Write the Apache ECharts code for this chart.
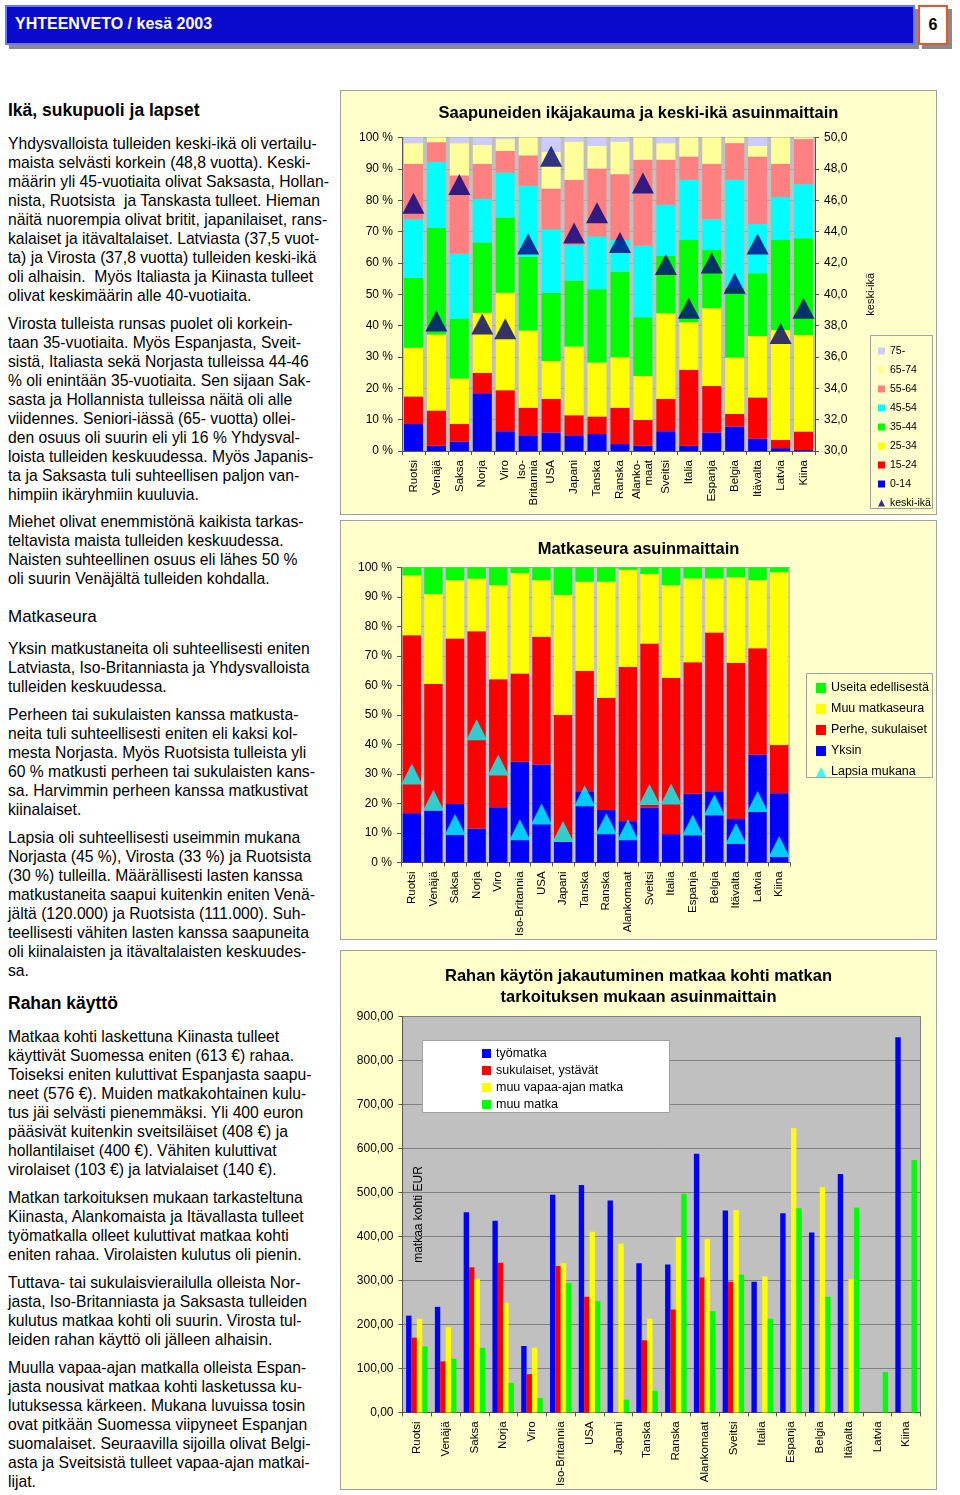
<!DOCTYPE html>
<html><head><meta charset="utf-8">
<script src="https://cdn.jsdelivr.net/npm/echarts@6/dist/echarts.min.js"></script>
<style>
body{margin:0;width:960px;height:1495px;position:relative;background:#fff;font-family:"Liberation Sans",Arial,sans-serif;overflow:hidden;color:#000}
#hdr{position:absolute;left:5px;top:5px;width:906px;height:36px;background:#0A0ACD;border:2px solid #6A78EA;box-shadow:4px 4px 0 #8a8a8a}
#hdr span{position:absolute;left:8px;top:8px;color:#fff;font-weight:bold;font-size:16px}
#pg{position:absolute;left:918px;top:5px;width:26px;height:36px;background:#fff;border:2px solid #E4572E;box-shadow:4px 4px 0 #8a8a8a;text-align:center;font-weight:bold;font-size:16px;line-height:36px}
.t{position:absolute;left:8px;font-size:15.7px;line-height:19px;white-space:nowrap}
.h{position:absolute;left:8px;font-size:17.5px;line-height:20px;font-weight:bold;white-space:nowrap}
.panel{position:absolute;left:340px;width:595px;border:1px solid #A0A0A0;background:#FFFFCC}
</style></head><body>
<div id="hdr"><span>YHTEENVETO / kesä 2003</span></div>
<div id="pg">6</div>

<div class="h" style="top:100px">Ikä, sukupuoli ja lapset</div>
<div class="t" style="top:133.5px">Yhdysvalloista tulleiden keski-ikä oli vertailu-<br>maista selvästi korkein (48,8 vuotta). Keski-<br>määrin yli 45-vuotiaita olivat Saksasta, Hollan-<br>nista, Ruotsista &nbsp;ja Tanskasta tulleet. Hieman<br>näitä nuorempia olivat britit, japanilaiset, rans-<br>kalaiset ja itävaltalaiset. Latviasta (37,5 vuot-<br>ta) ja Virosta (37,8 vuotta) tulleiden keski-ikä<br>oli alhaisin. &nbsp;Myös Italiasta ja Kiinasta tulleet<br>olivat keskimäärin alle 40-vuotiaita.</div>
<div class="t" style="top:313.5px">Virosta tulleista runsas puolet oli korkein-<br>taan 35-vuotiaita. Myös Espanjasta, Sveit-<br>sistä, Italiasta sekä Norjasta tulleissa 44-46<br>% oli enintään 35-vuotiaita. Sen sijaan Sak-<br>sasta ja Hollannista tulleissa näitä oli alle<br>viidennes. Seniori-iässä (65- vuotta) ollei-<br>den osuus oli suurin eli yli 16 % Yhdysval-<br>loista tulleiden keskuudessa. Myös Japanis-<br>ta ja Saksasta tuli suhteellisen paljon van-<br>himpiin ikäryhmiin kuuluvia.</div>
<div class="t" style="top:511.5px">Miehet olivat enemmistönä kaikista tarkas-<br>teltavista maista tulleiden keskuudessa.<br>Naisten suhteellinen osuus eli lähes 50 %<br>oli suurin Venäjältä tulleiden kohdalla.</div>
<div class="h" style="top:607px;font-weight:normal;font-size:17px">Matkaseura</div>
<div class="t" style="top:638.5px">Yksin matkustaneita oli suhteellisesti eniten<br>Latviasta, Iso-Britanniasta ja Yhdysvalloista<br>tulleiden keskuudessa.</div>
<div class="t" style="top:704.5px">Perheen tai sukulaisten kanssa matkusta-<br>neita tuli suhteellisesti eniten eli kaksi kol-<br>mesta Norjasta. Myös Ruotsista tulleista yli<br>60 % matkusti perheen tai sukulaisten kans-<br>sa. Harvimmin perheen kanssa matkustivat<br>kiinalaiset.</div>
<div class="t" style="top:827.5px">Lapsia oli suhteellisesti useimmin mukana<br>Norjasta (45 %), Virosta (33 %) ja Ruotsista<br>(30 %) tulleilla. Määrällisesti lasten kanssa<br>matkustaneita saapui kuitenkin eniten Venä-<br>jältä (120.000) ja Ruotsista (111.000). Suh-<br>teellisesti vähiten lasten kanssa saapuneita<br>oli kiinalaisten ja itävaltalaisten keskuudes-<br>sa.</div>
<div class="h" style="top:993px">Rahan käyttö</div>
<div class="t" style="top:1026.5px">Matkaa kohti laskettuna Kiinasta tulleet<br>käyttivät Suomessa eniten (613 €) rahaa.<br>Toiseksi eniten kuluttivat Espanjasta saapu-<br>neet (576 €). Muiden matkakohtainen kulu-<br>tus jäi selvästi pienemmäksi. Yli 400 euron<br>pääsivät kuitenkin sveitsiläiset (408 €) ja<br>hollantilaiset (400 €). Vähiten kuluttivat<br>virolaiset (103 €) ja latvialaiset (140 €).</div>
<div class="t" style="top:1187.5px">Matkan tarkoituksen mukaan tarkasteltuna<br>Kiinasta, Alankomaista ja Itävallasta tulleet<br>työmatkalla olleet kuluttivat matkaa kohti<br>eniten rahaa. Virolaisten kulutus oli pienin.</div>
<div class="t" style="top:1272.5px">Tuttava- tai sukulaisvierailulla olleista Nor-<br>jasta, Iso-Britanniasta ja Saksasta tulleiden<br>kulutus matkaa kohti oli suurin. Virosta tul-<br>leiden rahan käyttö oli jälleen alhaisin.</div>
<div class="t" style="top:1357.5px">Muulla vapaa-ajan matkalla olleista Espan-<br>jasta nousivat matkaa kohti lasketussa ku-<br>lutuksessa kärkeen. Mukana luvuissa tosin<br>ovat pitkään Suomessa viipyneet Espanjan<br>suomalaiset. Seuraavilla sijoilla olivat Belgi-<br>asta ja Sveitsistä tulleet vapaa-ajan matkai-<br>lijat.</div>

<div id="c1" class="panel" style="top:90px;height:423px"></div>
<div id="c2" class="panel" style="top:520px;height:418px"></div>
<div id="c3" class="panel" style="top:950px;height:538px"></div>

<script>
// ---------- Chart 1: age distribution ----------
const ageCategories = ['Ruotsi','Venäjä','Saksa','Norja','Viro','Iso-\nBritannia','USA','Japani','Tanska','Ranska','Alanko-\nmaat','Sveitsi','Italia','Espanja','Belgia','Itävalta','Latvia','Kiina'];
const age0_14  = [8.6,1.7,3.0,18.4,6.3,5.0,5.9,5.0,5.4,2.2,1.7,6.3,1.7,5.9,7.8,3.9,0.9,0.3];
const age15_24 = [8.8,11.2,5.6,6.5,13.1,8.8,10.7,6.4,5.6,11.6,8.2,10.3,24.2,14.8,4.0,13.2,2.6,5.9];
const age25_34 = [15.5,24.3,14.5,19.2,31.1,24.6,12.1,21.9,17.2,16.1,14.0,27.3,15.2,24.8,18.0,19.6,35.1,30.8];
const age35_44 = [22.4,34.0,19.0,22.4,24.0,23.6,21.8,21.1,23.4,27.3,18.8,18.3,26.2,18.6,22.2,20.0,28.7,30.9];
const age45_54 = [18.6,21.0,20.8,13.9,14.3,22.6,20.2,11.3,16.8,10.1,22.8,16.3,19.2,9.8,34.5,15.7,13.7,17.2];
const age55_64 = [17.7,6.3,25.0,11.2,6.9,9.7,13.0,20.8,21.7,21.0,27.4,14.4,7.4,17.7,11.7,21.5,10.6,14.4];
const age65_74 = [6.6,1.5,10.3,6.1,3.8,5.7,11.8,12.2,7.2,10.4,7.1,5.3,6.1,8.4,1.8,3.4,8.4,0.5];
const age75    = [1.8,0,1.8,2.3,0.5,0,4.5,1.3,2.7,1.3,0,1.8,0,0,0,2.7,0,0];
const keskiIka = [45.8,38.3,47.0,38.1,37.8,43.2,48.8,43.9,45.2,43.3,47.1,41.9,39.1,42.0,40.7,43.2,37.5,39.1];
const ageTicksLeft = {min:0,max:100,interval:10};
const ageTicksRight = {min:30,max:50,interval:2};

// ---------- Chart 2: travel company ----------
const compCategories = ['Ruotsi','Venäjä','Saksa','Norja','Viro','Iso-Britannia','USA','Japani','Tanska','Ranska','Alankomaat','Sveitsi','Italia','Espanja','Belgia','Itävalta','Latvia','Kiina'];
const yksin  = [16.7,17.6,19.8,11.5,18.7,34.1,33.2,7.0,24.1,17.8,14.0,18.6,9.6,23.3,24.1,14.7,36.5,23.5];
const perhe  = [60.3,42.9,56.1,66.9,43.4,30.0,43.3,43.0,40.8,38.0,52.3,55.6,53.0,44.6,53.9,52.9,36.1,16.3];
const muuSeura = [20.3,30.5,19.8,17.8,31.9,34.0,19.2,40.7,30.3,39.4,32.9,23.6,31.4,28.4,18.3,29.1,23.1,58.6];
const useita = [2.7,9.0,4.3,3.8,6.0,1.9,4.3,9.3,4.8,4.8,0.8,2.2,6.0,3.7,3.7,3.3,4.3,1.6];
const lapsia = [30,21.1,12.9,45,33,11.1,16.4,10.5,22.6,13.1,11.1,23.0,23.2,12.7,19.5,9.8,20.7,5.4];

// ---------- Chart 3: spending per trip ----------
const spendCategories = compCategories;
const tyomatka   = [220,240,455,436,151,495,517,482,339,336,588,459,297,453,409,542,0,853];
const sukulaiset = [170,116,330,340,87,333,263,0,164,234,307,297,0,0,0,0,0,0];
const vapaa      = [213,194,304,249,147,339,411,384,213,399,394,460,309,646,512,303,0,0];
const muuMatka   = [150,122,147,67,33,294,253,29,49,497,230,313,213,464,263,466,92,574];
const spendTicks = {min:0,max:900,interval:100};

const FONT = '"Liberation Sans", Arial, sans-serif';
const comma = (v,d)=>v.toFixed(d).replace('.',',');

// Chart 1
(function(){
  const c = echarts.init(document.getElementById('c1'));
  const cols = ['#0000FF','#FF0000','#FFFF00','#00FF00','#00FFFF','#FF8080','#FFFF99','#CCCCFF'];
  const names = ['0-14','15-24','25-34','35-44','45-54','55-64','65-74','75-'];
  const data = [age0_14,age15_24,age25_34,age35_44,age45_54,age55_64,age65_74,age75];
  const series = names.map((n,i)=>({name:n,type:'bar',stack:'a',barCategoryGap:'17%',data:data[i],itemStyle:{color:cols[i]}}));
  series.push({name:'keski-ikä',type:'scatter',yAxisIndex:1,symbol:'triangle',symbolSize:[22,21],itemStyle:{color:'#000080'},data:keskiIka,z:5});
  c.setOption({
    animation:false,
    textStyle:{fontFamily:FONT},
    title:{text:'Saapuneiden ikäjakauma ja keski-ikä asuinmaittain',left:'center',top:9,textStyle:{fontSize:16.5,fontWeight:'bold',color:'#000',fontFamily:FONT}},
    legend:{orient:'vertical',left:532,top:249,itemWidth:7,itemHeight:7,itemGap:7,z:10,
      textStyle:{fontSize:10.5,lineHeight:12,color:'#000',fontFamily:FONT},
      data:[{name:'75-',icon:'rect'},{name:'65-74',icon:'rect'},{name:'55-64',icon:'rect'},{name:'45-54',icon:'rect'},{name:'35-44',icon:'rect'},{name:'25-34',icon:'rect'},{name:'15-24',icon:'rect'},{name:'0-14',icon:'rect'},{name:'keski-ikä',icon:'triangle'}]},
    graphic:[{type:'rect',left:529,top:244,z:1,shape:{width:62,height:173},style:{fill:'#FFFFCC',stroke:'#A0A0A0',lineWidth:1}}],
    grid:{left:61,top:46.5,width:413,height:313.5,show:true,backgroundColor:'#C0C0C0',borderWidth:0},
    xAxis:{type:'category',data:ageCategories,axisLine:{lineStyle:{color:'#555'}},axisTick:{show:true,length:4,lineStyle:{color:'#555'}},
      axisLabel:{rotate:90,interval:0,fontSize:11.5,color:'#000',margin:9,lineHeight:12,fontFamily:FONT}},
    yAxis:[{type:'value',...ageTicksLeft,axisLine:{show:true,lineStyle:{color:'#555'}},axisTick:{show:true,length:4,lineStyle:{color:'#555'}},
      splitLine:{show:true,lineStyle:{color:'#A8A8A8'}},axisLabel:{formatter:v=>v+' %',fontSize:12,color:'#000',margin:9,fontFamily:FONT}},
      {type:'value',...ageTicksRight,position:'right',name:'keski-ikä',nameLocation:'middle',nameRotate:90,nameGap:50,
       nameTextStyle:{fontSize:11,color:'#000',fontFamily:FONT},
       axisLine:{show:true,lineStyle:{color:'#555'}},axisTick:{show:true,length:4,lineStyle:{color:'#555'}},splitLine:{show:false},
       axisLabel:{formatter:v=>comma(v,1),fontSize:12,color:'#000',margin:9,fontFamily:FONT}}],
    series:series
  });
})();

// Chart 2
(function(){
  const c = echarts.init(document.getElementById('c2'));
  c.setOption({
    animation:false,
    textStyle:{fontFamily:FONT},
    title:{text:'Matkaseura asuinmaittain',left:'center',top:15,textStyle:{fontSize:16.5,fontWeight:'bold',color:'#000',fontFamily:FONT}},
    legend:{orient:'vertical',left:470,top:155,itemWidth:10,itemHeight:10,itemGap:7,z:10,
      textStyle:{fontSize:12.5,lineHeight:14,color:'#000',fontFamily:FONT},
      data:[{name:'Useita edellisestä',icon:'rect'},{name:'Muu matkaseura',icon:'rect'},{name:'Perhe, sukulaiset',icon:'rect'},{name:'Yksin',icon:'rect'},{name:'Lapsia mukana',icon:'triangle'}]},
    graphic:[{type:'rect',left:465,top:152,z:1,shape:{width:126,height:104},style:{fill:'#FFFFCC',stroke:'#A0A0A0',lineWidth:1}}],
    grid:{left:60,top:46.5,width:389,height:303.5,show:true,backgroundColor:'#C4C4D0',borderWidth:0},
    xAxis:{type:'category',data:compCategories,axisLine:{lineStyle:{color:'#555'}},axisTick:{show:true,length:4,lineStyle:{color:'#555'}},
      axisLabel:{rotate:90,interval:0,fontSize:11.5,color:'#000',margin:9,fontFamily:FONT}},
    yAxis:{type:'value',min:0,max:100,interval:10,axisLine:{show:true,lineStyle:{color:'#555'}},axisTick:{show:true,length:4,lineStyle:{color:'#555'}},
      splitLine:{show:true,lineStyle:{color:'#A8A8A8'}},axisLabel:{formatter:v=>v+' %',fontSize:12,color:'#000',margin:9,fontFamily:FONT}},
    series:[
      {name:'Yksin',type:'bar',stack:'s',barCategoryGap:'15%',data:yksin,itemStyle:{color:'#0000FF'}},
      {name:'Perhe, sukulaiset',type:'bar',stack:'s',data:perhe,itemStyle:{color:'#FF0000'}},
      {name:'Muu matkaseura',type:'bar',stack:'s',data:muuSeura,itemStyle:{color:'#FFFF00'}},
      {name:'Useita edellisestä',type:'bar',stack:'s',data:useita,itemStyle:{color:'#00FF00'}},
      {name:'Lapsia mukana',type:'scatter',symbol:'triangle',symbolSize:[21,21],itemStyle:{color:'#00FFFF'},data:lapsia,z:5}
    ]
  });
})();

// Chart 3
(function(){
  const c = echarts.init(document.getElementById('c3'));
  c.setOption({
    animation:false,
    textStyle:{fontFamily:FONT},
    title:{text:'Rahan käytön jakautuminen matkaa kohti matkan\ntarkoituksen mukaan asuinmaittain',left:'center',top:10,
      textStyle:{fontSize:16.5,fontWeight:'bold',color:'#000',lineHeight:21,fontFamily:FONT,align:'center'}},
    legend:{orient:'vertical',left:136,top:91,itemWidth:9,itemHeight:9,itemGap:4,z:20,
      textStyle:{fontSize:12.5,lineHeight:13,color:'#000',fontFamily:FONT},
      data:[{name:'työmatka',icon:'rect'},{name:'sukulaiset, ystävät',icon:'rect'},{name:'muu vapaa-ajan matka',icon:'rect'},{name:'muu matka',icon:'rect'}]},
    graphic:[{type:'rect',left:81,top:89,z:3,shape:{width:247,height:72},style:{fill:'#FFFFFF',stroke:'#A0A0A0',lineWidth:1}}],
    grid:{left:61.5,top:65.5,width:518,height:396,show:true,backgroundColor:'#C0C0C0',borderColor:'#808080',borderWidth:1},
    xAxis:{type:'category',data:spendCategories,axisLine:{lineStyle:{color:'#555'}},axisTick:{show:true,length:4,lineStyle:{color:'#555'}},
      axisLabel:{rotate:90,interval:0,fontSize:11.5,color:'#000',margin:9,fontFamily:FONT}},
    yAxis:{type:'value',...spendTicks,name:'matkaa kohti EUR',nameLocation:'middle',nameRotate:90,nameGap:-22,
      nameTextStyle:{fontSize:12,color:'#000',fontFamily:FONT},
      axisLine:{show:true,lineStyle:{color:'#555'}},axisTick:{show:true,length:4,lineStyle:{color:'#555'}},
      splitLine:{show:true,lineStyle:{color:'#808080'}},axisLabel:{formatter:v=>comma(v,2),fontSize:12,color:'#000',margin:9,fontFamily:FONT}},
    series:[
      {name:'työmatka',type:'bar',barGap:'0%',barCategoryGap:'25%',data:tyomatka,itemStyle:{color:'#0000FF'}},
      {name:'sukulaiset, ystävät',type:'bar',data:sukulaiset,itemStyle:{color:'#FF0000'}},
      {name:'muu vapaa-ajan matka',type:'bar',data:vapaa,itemStyle:{color:'#FFFF00'}},
      {name:'muu matka',type:'bar',data:muuMatka,itemStyle:{color:'#00FF00'}}
    ]
  });
})();
</script>
</body></html>
